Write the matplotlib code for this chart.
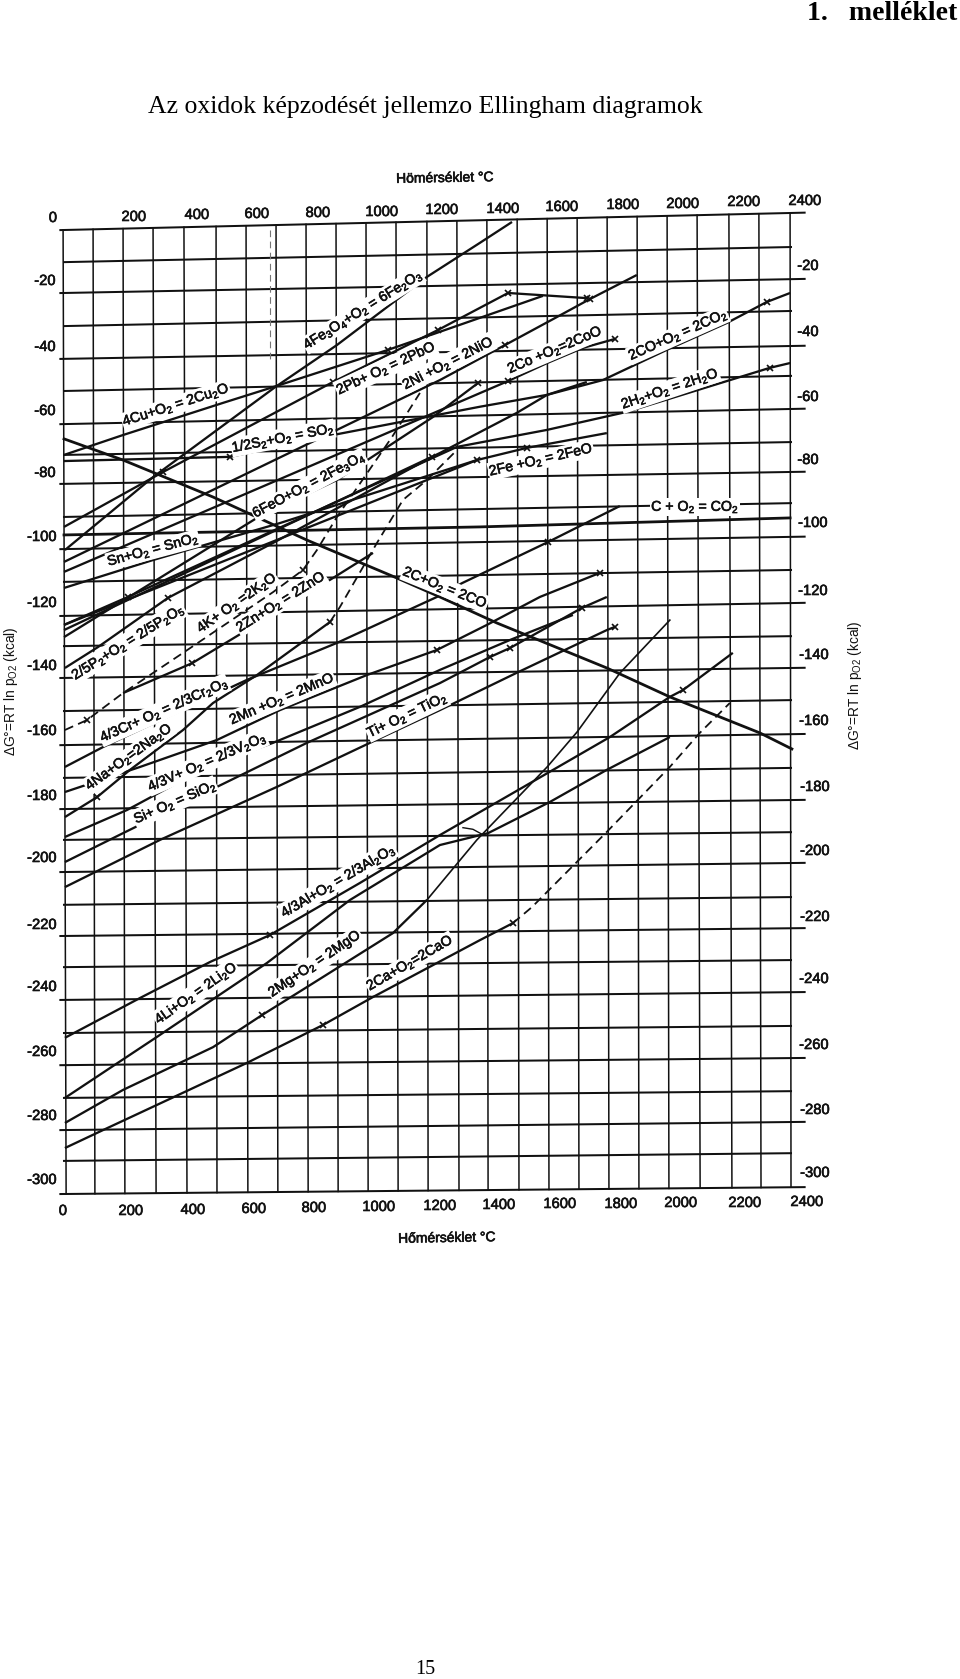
import numpy as np
import matplotlib
matplotlib.use("Agg")
import matplotlib.pyplot as plt
import matplotlib.patheffects as pe

plt.rcParams['font.family'] = ['Liberation Sans', 'DejaVu Sans']
plt.rcParams['mathtext.default'] = 'regular'

# --- GRID (as scanned, the sheet is a little tilted) ---
grid_left_G = [0, -10, -19.6, -29.9, -40.1, -50.1, -60.4, -70, -79, -89.3, -99.3, -109.5, -120.1, -129.5, -139.4,
               -149.7, -160.3, -170.5, -180.2, -189.8, -199.8, -210, -219.7, -229.4, -239.6, -249.9, -259.9,
               -270.1, -280.1, -289.7, -300]
grid_right_G = [5.3, -5.3, -15.3, -25.2, -36.1, -45.4, -55.7, -66, -75.3, -85, -95.5, -105.8, -116.1, -126.4, -136.3,
                -146.3, -156.9, -167.4, -177.4, -187.4, -197, -207.6, -217.3, -227.2, -237.2, -247.7, -257.7,
                -268, -277.6, -287.3, -297.9]
grid_top_T = [-3, 96, 195, 294, 396, 502, 601, 700, 799, 898, 997, 1096, 1198, 1297, 1396, 1496, 1595, 1694, 1793,
              1892, 1991, 2090, 2195, 2294, 2397]
grid_bottom_T = [7, 102, 201, 304, 406, 505, 607, 706, 806, 905, 1004, 1103, 1202, 1304, 1400, 1502, 1601, 1700,
                 1799, 1898, 1997, 2100, 2205, 2301, 2400]

# --- REACTION LINES (temperature in C, dG in kcal) ---
fe2o3_T = [3, 294, 697, 901, 1198, 1373, 1479]
fe2o3_G = [-99.6, -76.9, -48.9, -35.8, -14.6, -4, 2.5]
cu_T = [0, 195, 525, 690, 1070, 1581]
cu_G = [-70, -63.8, -53.8, -48.9, -37.3, -20.5]
pb_T = [0, 327, 888, 1235, 1466, 1726]
pb_G = [-92.4, -75.3, -47.3, -31.1, -19.6, -21.2]
ni_T = [0, 1241, 1456, 1621, 1736, 1891]
ni_G = [-103.3, -46.7, -35.8, -27.4, -21.5, -14]
s_T = [0, 548, 888, 1373, 1595, 1726]
s_G = [-71.9, -70.6, -63.8, -55, -51.3, -47.3]
co_T = [0, 1466, 1595, 1713, 1819]
co_G = [-106.4, -47, -41.4, -36.7, -33.9]
feo_T = [0, 637, 901, 1218, 1367]
feo_G = [-126.7, -89.6, -77.8, -58.2, -47.6]
sn_T = [0, 294, 713, 1363]
sn_G = [-111.4, -102.7, -91.2, -71.6]
fe_T = [0, 1241, 1363, 1528, 1792]
fe_G = [-122.9, -76.2, -71.6, -67.8, -63.2]
h2_T = [0, 211, 1297, 1595, 1858, 2330, 2397]
h2_G = [-122.9, -114.2, -67.5, -62.2, -56.6, -42.9, -41.4]
cogas_T = [0, 1241, 1495, 1595, 1779, 1990, 2189, 2320, 2397]
cogas_G = [-124.5, -69.4, -56.9, -51.3, -46.7, -37.3, -28.9, -22.4, -19.6]
p_T = [3, 112, 343, 690, 1215]
p_G = [-136.3, -129.8, -114.5, -97.4, -70.6]
k_T = [3, 76, 195, 393, 690, 789, 835, 901, 1083, 1175]
k_G = [-155.6, -152.5, -144.1, -131.6, -112.7, -105.8, -99.6, -89.3, -64.4, -50.7]
zn_T = [195, 423, 713, 888, 1020]
zn_G = [-144.1, -134.8, -118.3, -108.3, -100.5]
cr_T = [3, 129, 340, 604, 901, 1231, 1314, 1598, 1835]
cr_G = [-167.1, -160.9, -151.6, -140, -128.5, -114.2, -109.9, -97.1, -85.9]
mn_T = [3, 251, 505, 713, 1000, 1231, 1396, 1571, 1769]
mn_G = [-174.9, -167.1, -158.7, -149.4, -138.5, -130.7, -122.9, -114.2, -106.7]
na_T = [3, 109, 218, 393, 492, 637, 878]
na_G = [-182.7, -176.5, -168, -155.6, -147.2, -138.5, -122]
na_dash_T = [878, 911, 987, 1033, 1119, 1198, 1297]
na_dash_G = [-122, -117.3, -104.9, -97.4, -84, -77.8, -68.5]
v_T = [3, 208, 472, 690, 977, 1241, 1472, 1680]
v_G = [-188.9, -180.5, -167.1, -159.6, -148.4, -136.9, -127.6, -119.8]
si_T = [3, 195, 505, 802, 1241, 1406, 1472, 1710, 1792]
si_G = [-196.7, -187.7, -173.3, -159.6, -141, -132.9, -130.1, -117.6, -114.2]
ti_T = [3, 317, 703, 1010, 1241, 1499, 1792, 1819]
ti_G = [-204.5, -189.8, -173.3, -159.6, -149.4, -137.6, -124.5, -123.5]
al_T = [3, 251, 482, 680, 977, 1241, 1499, 1802, 2000, 2043, 2208]
al_G = [-251.4, -239, -227.8, -219.4, -203.2, -188.3, -174.3, -157.8, -145.3, -143.2, -131.6]
li_T = [3, 307, 670, 944, 1241, 1400, 1604, 1792, 2000]
li_G = [-270.1, -251.1, -228.1, -208.5, -191.4, -187.7, -178, -168, -157.8]
li_hook_T = [1317, 1350, 1383]
li_hook_G = [-186, -186.5, -188.2]
mg_T = [3, 195, 492, 654, 802, 1086, 1198]
mg_G = [-277.9, -267.6, -254.3, -244.3, -235.6, -218.8, -208.5]
mg_steep_T = [1198, 1363, 1595, 1694, 1835, 2000]
mg_steep_G = [-208.5, -189.8, -167.1, -156.2, -137.9, -121.4]
ca_T = [3, 129, 604, 855, 1020, 1373, 1482]
ca_G = [-285.7, -280.1, -259.2, -247.4, -238.7, -221, -215.7]
ca_dash_T = [1482, 1545, 1792, 2000, 2099, 2198]
ca_dash_G = [-215.7, -210.7, -187.3, -167.1, -156.5, -147.2]
c_co_T = [0, 195, 492, 802, 1099, 1241, 1429, 1792, 2000, 2297, 2403]
c_co_G = [-65, -71.6, -83.1, -96.5, -108.3, -114.2, -122.3, -136.3, -145.3, -156.5, -161.5]
c_co2_T = [0, 1373, 2397]
c_co2_G = [-94.9, -92.4, -89.6]
# faint broken stroke left by the copier next to the 700 C line
scan_mark_T = [680, 680]
scan_mark_G = [0, -40]

# x marks: (temperature list, its line)
mark_list = [
    ([327, 888, 1235, 1466, 1726], pb_T, pb_G),
    ([1070], cu_T, cu_G),
    ([1456, 1736], ni_T, ni_G),
    ([548], s_T, s_G),
    ([1466, 1819], co_T, co_G),
    ([1367], feo_T, feo_G),
    ([1363, 1528], fe_T, fe_G),
    ([211, 2330], h2_T, h2_G),
    ([2320], cogas_T, cogas_G),
    ([343, 1215], p_T, p_G),
    ([76, 789], k_T, k_G),
    ([423], zn_T, zn_G),
    ([1598], cr_T, cr_G),
    ([1231, 1769], mn_T, mn_G),
    ([109, 878], na_T, na_G),
    ([1406, 1472, 1710], si_T, si_G),
    ([1819], ti_T, ti_G),
    ([680, 2043], al_T, al_G),
    ([654], mg_T, mg_G),
    ([855, 1482], ca_T, ca_G),
]

solid_lines = [fe2o3_T, fe2o3_G, cu_T, cu_G, pb_T, pb_G, ni_T, ni_G, s_T, s_G, co_T, co_G, feo_T, feo_G, sn_T, sn_G,
               fe_T, fe_G, h2_T, h2_G, cogas_T, cogas_G, p_T, p_G, zn_T, zn_G, cr_T, cr_G, mn_T, mn_G, na_T, na_G,
               v_T, v_G, si_T, si_G, ti_T, ti_G, al_T, al_G, li_T, li_G, mg_T, mg_G, ca_T, ca_G]
dashed_lines = [k_T, k_G, na_dash_T, na_dash_G, ca_dash_T, ca_dash_G]

# --- PLOT SETUP ---
W, H = 960, 1679
fig = plt.figure(figsize=(W / 100, H / 100), dpi=100)
ax = fig.add_axes([64 / W, 1 - 1194 / H, (791 - 64) / W, (1194 - 230) / H])
ax.set_xlim(0, 2400)
ax.set_ylim(-300, 0)
ax.axis('off')

INK = '#111111'


def grid_at(i, t):
    return grid_left_G[i] + (grid_right_G[i] - grid_left_G[i]) * t / 2400


for i in range(len(grid_left_G)):
    # every second line sticks out of the frame
    if i % 2 == 0:
        ends = [-12, 2445]
    else:
        ends = [0, 2400]
    ax.plot(ends, [grid_at(i, ends[0]), grid_at(i, ends[1])], color=INK, lw=1.45, clip_on=False, zorder=1)

for t0, t1 in zip(grid_top_T, grid_bottom_T):
    ax.plot([t0, t1], [grid_at(0, t0), grid_at(30, t1)], color=INK, lw=1.1, clip_on=False, zorder=1)

for i in range(0, len(solid_lines), 2):
    ax.plot(solid_lines[i], solid_lines[i + 1], color=INK, lw=1.65, clip_on=False, zorder=2, solid_capstyle='butt')
for i in range(0, len(dashed_lines), 2):
    ax.plot(dashed_lines[i], dashed_lines[i + 1], color=INK, lw=1.3, ls=(0, (5, 3)), clip_on=False, zorder=2)

ax.plot(mg_steep_T, mg_steep_G, color=INK, lw=1.2, clip_on=False, zorder=2)
ax.plot(li_hook_T, li_hook_G, color=INK, lw=1.0, clip_on=False, zorder=2)
ax.plot(c_co_T, c_co_G, color=INK, lw=2.0, clip_on=False, zorder=2)
ax.plot(c_co2_T, c_co2_G, color=INK, lw=2.0, clip_on=False, zorder=2)
ax.plot(scan_mark_T, scan_mark_G, color='#777777', lw=0.8, ls=(0, (6, 4)), clip_on=False, zorder=1)

for temps, line_T, line_G in mark_list:
    ax.plot(temps, np.interp(temps, line_T, line_G), 'x', color=INK, ms=5, mew=1.2, clip_on=False, zorder=3)


# --- TEXT (placed in picture pixels) ---
HEAVY = [pe.withStroke(linewidth=0.45, foreground=INK)]


def put(x, y, s, **kw):
    kw.setdefault('ha', 'center')
    kw.setdefault('va', 'center')
    kw.setdefault('color', INK)
    fig.text(x / W, 1 - y / H, s, **kw)


reaction_labels = [
    (363, 310, 32, '4Fe$_3$O$_4$+O$_2$ = 6Fe$_2$O$_3$'),
    (176, 405, 18, '4Cu+O$_2$ = 2Cu$_2$O'),
    (386, 368, 25, '2Pb+ O$_2$ = 2PbO'),
    (448, 363, 27, '2Ni +O$_2$ = 2NiO'),
    (283, 438, 11, '1/2S$_2$+O$_2$ = SO$_2$'),
    (309, 485, 28, '6FeO+O$_2$ = 2Fe$_3$O$_4$'),
    (153, 550, 15, 'Sn+O$_2$ = SnO$_2$'),
    (555, 350, 23, '2Co +O$_2$=2CoO'),
    (678, 335, 24, '2CO+O$_2$ = 2CO$_2$'),
    (670, 389, 18.5, '2H$_2$+O$_2$ = 2H$_2$O'),
    (541, 460, 13, '2Fe +O$_2$ = 2FeO'),
    (695, 507, 0, 'C + O$_2$ = CO$_2$'),
    (445, 588, -22, '2C+O$_2$ = 2CO'),
    (237, 603, 35, '4K+ O$_2$ =2K$_2$O'),
    (281, 602, 32, '2Zn+O$_2$ = 2ZnO'),
    (128, 642, 32, '2/5P$_2$+O$_2$ = 2/5P$_2$O$_5$'),
    (164, 710, 24, '4/3Cr+ O$_2$ = 2/3Cr$_2$O$_3$'),
    (129, 757, 36, '4Na+O$_2$=2Na$_2$O'),
    (282, 699, 23, '2Mn +O$_2$ = 2MnO'),
    (207, 762, 23.5, '4/3V+ O$_2$ = 2/3V$_2$O$_3$'),
    (175, 802, 23.6, 'Si+ O$_2$ = SiO$_2$'),
    (407, 715, 25.5, 'Ti+ O$_2$ = TiO$_2$'),
    (338, 881, 30.5, '4/3Al+O$_2$ = 2/3Al$_2$O$_3$'),
    (196, 993, 35, '4Li+O$_2$ = 2Li$_2$O'),
    (315, 964, 34, '2Mg+O$_2$ = 2MgO'),
    (410, 963, 30, '2Ca+O$_2$=2CaO'),
]
for x, y, rot, s in reaction_labels:
    put(x, y, s, rotation=rot, rotation_mode='anchor', fontsize=10.2, path_effects=HEAVY,
        bbox=dict(fc='white', ec='none', pad=0.6))

top_ticks = [('0', 53, 218), ('200', 134, 217), ('400', 197, 215), ('600', 257, 214), ('800', 318, 213),
             ('1000', 382, 212), ('1200', 442, 210), ('1400', 503, 209), ('1600', 562, 207), ('1800', 623, 205),
             ('2000', 683, 204), ('2200', 744, 202), ('2400', 805, 201)]
bottom_ticks = [('0', 63, 1211), ('200', 131, 1211), ('400', 193, 1210), ('600', 254, 1209), ('800', 314, 1208),
                ('1000', 379, 1207), ('1200', 440, 1206), ('1400', 499, 1205), ('1600', 560, 1204),
                ('1800', 621, 1204), ('2000', 681, 1203), ('2200', 745, 1203), ('2400', 807, 1202)]
left_ticks = [('-20', 45, 281), ('-40', 45, 347), ('-60', 45, 411), ('-80', 45, 473), ('-100', 42, 537),
              ('-120', 42, 603), ('-140', 42, 666), ('-160', 42, 731), ('-180', 42, 796), ('-200', 42, 858),
              ('-220', 42, 925), ('-240', 42, 987), ('-260', 42, 1052), ('-280', 42, 1116), ('-300', 42, 1180)]
right_ticks = [('-20', 808, 266), ('-40', 808, 332), ('-60', 808, 397), ('-80', 808, 460), ('-100', 813, 523),
               ('-120', 813, 591), ('-140', 814, 655), ('-160', 814, 721), ('-180', 815, 787), ('-200', 815, 851),
               ('-220', 815, 917), ('-240', 814, 979), ('-260', 814, 1045), ('-280', 815, 1110), ('-300', 815, 1173)]
for s, x, y in top_ticks + bottom_ticks + left_ticks + right_ticks:
    put(x, y, s, fontsize=10.6, path_effects=HEAVY)

put(445, 178, 'Hömérséklet °C', fontsize=10, rotation=1, path_effects=HEAVY)
put(447, 1238, 'Hőmérséklet °C', fontsize=10, rotation=1, path_effects=HEAVY)
put(11, 691, 'ΔG°=RT ln p$_{O2}$ (kcal)', fontsize=9.9, rotation=90)
put(855, 685, 'ΔG°=RT ln p$_{O2}$ (kcal)', fontsize=9.9, rotation=90)

put(425, 107, 'Az oxidok képzodését jellemzo Ellingham diagramok', fontsize=18.5,
    family='Liberation Serif', color='black')
put(957, 20, '1.   melléklet', fontsize=20, family='Liberation Serif', weight='bold', ha='right', va='baseline',
    color='black')
put(425, 1670, '15', fontsize=14.5, family='Liberation Serif', color='black')

fig.savefig('out.png', dpi=100, facecolor='white')
